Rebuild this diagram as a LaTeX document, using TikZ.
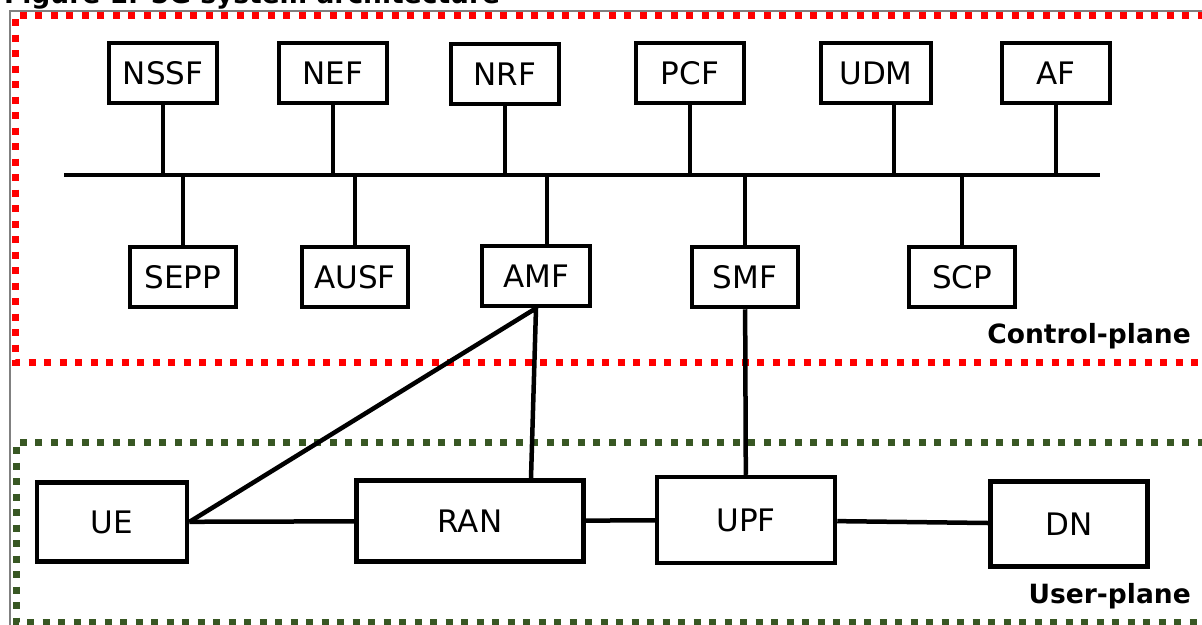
\documentclass[tikz,border=0pt]{standalone}
\usepackage{fontspec}
\setmainfont{DejaVu Sans}
\usetikzlibrary{positioning}

\definecolor{planered}{RGB}{255,0,0}
\definecolor{planegreen}{RGB}{56,87,35}
\definecolor{framegray}{RGB}{128,128,128}

\begin{document}
\begin{tikzpicture} [x=1pt,y=-1pt,line width=4.5pt,
	nf/.style={draw,fill=white,minimum width=108pt,minimum height=60pt,inner sep=0pt,font=\fontsize{31}{36}\selectfont},
	plane/.style={line width=7pt,dash pattern=on 7pt off 8.5pt},
	planelabel/.style={anchor=base east,inner sep=0pt,font=\bfseries\fontsize{26.5}{31}\selectfont}]
		\useasboundingbox (0,0) rectangle (1202,624);
		% Frame, title and the two planes
		\node[anchor=base west,inner sep=0pt,font=\bfseries\fontsize{26.5}{31}\selectfont] (title) at (2,3) {Figure 1: 5G system architecture};
		\draw[framegray,line width=1.5pt] (10,640) -- (10,11) -- (1220,11);
		\draw[plane,planered] (1220,15) -- (15,15) -- (15,362) -- (1220,362);
		\draw[plane,planegreen] (1220,442) -- (16,442) -- (16,622) -- (1220,622);
		\node[planelabel] (cplabel) at (1193,343) {Control-plane};
		\node[planelabel] (uplabel) at (1193,603) {User-plane};
		% Service based bus
		\coordinate (busW) at (64,175);
		\coordinate (busE) at (1100,175);
		\draw (busW) -- (busE);
		% Control-plane functions
		\node[nf] (nssf) at (163,73) {NSSF};
		\node[nf] (nef) at (333,73) {NEF};
		\node[nf] (nrf) at (505,74) {NRF};
		\node[nf] (pcf) at (690,73) {PCF};
		\node[nf,minimum width=110pt] (udm) at (876,73) {UDM};
		\node[nf] (af) at (1056,73) {AF};
		\node[nf,minimum width=106pt] (sepp) at (183,277) {SEPP};
		\node[nf,minimum width=106pt] (ausf) at (355,277) {AUSF};
		\node[nf] (amf) at (536,276) {AMF};
		\node[nf,minimum width=106pt] (smf) at (745,277) {SMF};
		\node[nf,minimum width=106pt] (scp) at (962,277) {SCP};
		\foreach \f in {nssf,nef,nrf,pcf,af}
			\draw (\f.south) -- (\f.south |- busW);
		\draw ([xshift=18pt]udm.south) -- ([xshift=18pt]udm.south |- busW);
		\foreach \f in {sepp,ausf,smf,scp}
			\draw (\f.north) -- (\f.north |- busW);
		\draw ([xshift=11pt]amf.north) -- ([xshift=11pt]amf.north |- busW);
		% User-plane
		\node[nf,minimum width=150pt,minimum height=79pt] (ue) at (112,522) {UE};
		\node[nf,minimum width=227pt,minimum height=81pt] (ran) at (470,521) {RAN};
		\node[nf,minimum width=178pt,minimum height=86pt] (upf) at (746,520) {UPF};
		\node[nf,minimum width=157pt,minimum height=85pt] (dn) at (1069,524) {DN};
		\draw (ue) -- (ran) -- (upf) -- (dn);
		\draw (ue.east) -- (amf.south) -- ([xshift=61pt]ran.north);
		\draw (smf) -- (upf);
	\end{tikzpicture}
\end{document}
